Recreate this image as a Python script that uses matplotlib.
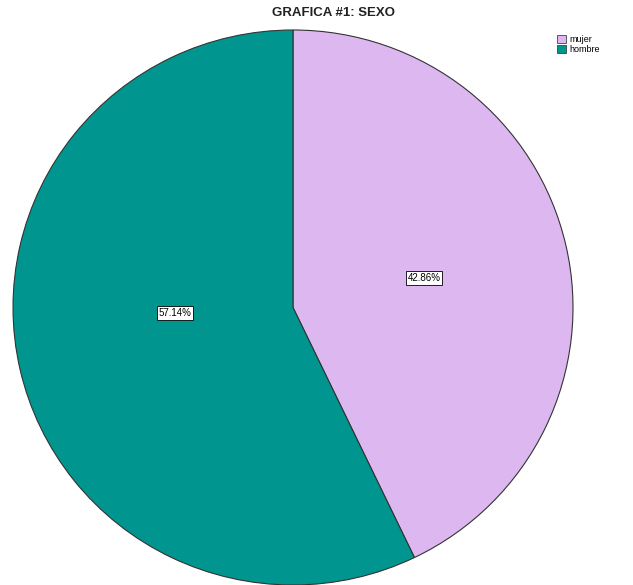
import matplotlib
matplotlib.use("Agg")
import matplotlib.pyplot as plt
from matplotlib.patches import Patch

plt.rcParams['font.family'] = ['Liberation Sans', 'DejaVu Sans']

categories = ['mujer', 'hombre']
percentages = [42.86, 57.14]
colors = ['#DDB8F0', '#00968F']

fig = plt.figure(figsize=(6.33, 5.85), dpi=100)
ax = fig.add_axes([13 / 633, 0, 560 / 633, 555 / 585])

wedges, texts, autotexts = ax.pie(
    percentages, colors=colors, startangle=90, counterclock=False,
    autopct='%1.2f%%', pctdistance=0.48,
    wedgeprops=dict(edgecolor='#333333', linewidth=0.8),
    textprops=dict(fontsize=7, color='black'))
for t in autotexts:
    t.set_bbox(dict(facecolor='white', edgecolor='black', linewidth=0.6, pad=1.2))
autotexts[1].set_position((-0.42, -0.02))

ax.set_xlim(-1, 1)
ax.set_ylim(-1, 1)
ax.set_aspect('auto')

fig.text(333 / 633, 1 - 13 / 585, 'GRAFICA #1: SEXO', ha='center', va='center',
         fontsize=9.5, fontweight='bold', color='#222222')

handles = [Patch(facecolor=c, edgecolor='#444444', linewidth=0.6) for c in colors]
fig.legend(handles, categories, loc='upper left', bbox_to_anchor=(551 / 633, 1 - 29 / 585),
           frameon=False, fontsize=6.5, handlelength=1.0, handleheight=1.0,
           handletextpad=0.3, labelspacing=0.1, borderpad=0.2)

fig.savefig('out.png', dpi=100)
